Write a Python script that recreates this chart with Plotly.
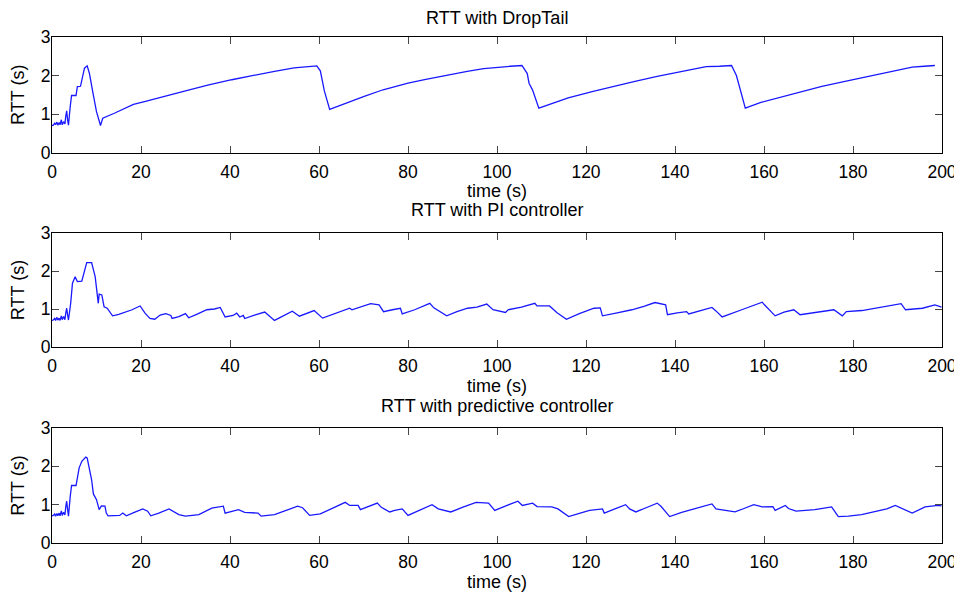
import plotly.graph_objects as go

# ---------------- data ----------------
titles = ["RTT with DropTail", "RTT with PI controller", "RTT with predictive controller"]
x_label = "time (s)"
y_label = "RTT (s)"
x_ticks = [0, 20, 40, 60, 80, 100, 120, 140, 160, 180, 200]
y_ticks = [0, 1, 2, 3]

droptail_t = [0, 0.3, 0.6, 0.8, 1.1, 1.3, 1.6, 1.8, 2.1, 2.3, 2.6, 2.9, 3.1, 3.3, 3.5, 3.7,
              4.1, 4.4, 5.4, 5.7, 6.4, 6.9, 7.3, 7.9, 8.4, 9.2, 10.0, 10.9, 11.4, 14, 16, 18.3,
              21, 24.3, 27, 30, 35, 40.4, 45, 50, 54.4, 57, 59.5, 60.3, 61.2, 62.4,
              65, 70, 74.4, 80, 84, 90, 93.3, 97, 100.8, 103, 105.6, 106.8, 107.2, 108.0, 109.4,
              112, 116, 121.6, 126, 131, 136, 140.5, 144, 147, 150, 152.7, 153.8, 154.5, 155.8,
              159.3, 164, 168.8, 173, 178.2, 183, 187.6, 191, 193.3, 196, 198.4]
droptail_rtt = [0.70, 0.71, 0.76, 0.72, 0.79, 0.71, 0.78, 0.72, 0.85, 0.72, 0.80, 0.74, 0.95, 1.08, 0.85, 0.71,
                1.20, 1.48, 1.48, 1.71, 1.72, 1.95, 2.19, 2.25, 2.06, 1.55, 1.06, 0.70, 0.89, 1.02, 1.12, 1.25,
                1.33, 1.42, 1.51, 1.60, 1.75, 1.89, 2.00, 2.11, 2.20, 2.22, 2.25, 2.12, 1.60, 1.12,
                1.24, 1.45, 1.63, 1.80, 1.90, 2.04, 2.11, 2.18, 2.23, 2.24, 2.26, 2.05, 1.80, 1.62, 1.15,
                1.26, 1.42, 1.59, 1.72, 1.85, 1.98, 2.09, 2.17, 2.23, 2.24, 2.26, 2.00, 1.70, 1.15,
                1.30, 1.45, 1.59, 1.72, 1.85, 1.97, 2.07, 2.15, 2.22, 2.24, 2.26]

pi_t = [0, 0.3, 0.6, 0.8, 1.1, 1.3, 1.6, 1.8, 2.1, 2.3, 2.6, 2.9, 3.1, 3.3, 3.5, 3.7,
        4.2, 4.6, 5.2, 5.5, 5.7, 6.7, 7.8, 8.9, 9.7, 10.4, 10.6, 11.2, 11.7, 12.4, 13.0, 13.6,
        15, 16.5, 18, 19.4, 19.8, 20.9, 22.0, 23.1, 24.3, 25.6, 26.7, 27, 28.5, 30, 30.7,
        32.5, 34.8, 36.5, 37.8, 38.9, 40.7, 41.5, 42.2, 43, 43.3, 45.5, 47.8, 50, 52, 54,
        55.6, 58.1, 58.9, 60.8, 63.5, 66.9, 67.4, 69.5, 71.6, 73.5, 74.5, 76.5, 78.3, 78.7,
        81.5, 84.9, 85.8, 88.7, 91, 93.4, 95.5, 97.7, 99.1, 101.9, 102.5, 105.5, 108.5, 109,
        111.8, 113.5, 115.6, 118.5, 121.8, 123.2, 123.7, 127, 130.3, 133, 135.5, 137.9, 138.3,
        140.5, 142.6, 143.1, 146, 148.3, 149.2, 150.6, 155, 159.6, 160.1, 162.5, 164.5, 166.7,
        168.1, 172, 175.7, 177.6, 178.5, 182, 186, 190.8, 191.8, 195.6, 198.4, 199.4, 199.9]
pi_rtt = [0.70, 0.71, 0.75, 0.70, 0.78, 0.71, 0.76, 0.70, 0.82, 0.72, 0.80, 0.72, 0.90, 1.02, 0.85, 0.71,
          1.15, 1.68, 1.85, 1.75, 1.72, 1.73, 2.22, 2.22, 1.85, 1.15, 1.39, 1.37, 1.06, 1.02, 0.93, 0.82,
          0.86, 0.92, 0.98, 1.06, 1.08, 0.89, 0.75, 0.73, 0.84, 0.88, 0.83, 0.75, 0.80, 0.88, 0.77,
          0.86, 0.98, 1.00, 1.04, 0.79, 0.83, 0.89, 0.79, 0.83, 0.75, 0.84, 0.92, 0.70, 0.82, 0.94,
          0.81, 0.92, 0.96, 0.76, 0.88, 1.02, 0.98, 1.06, 1.14, 1.11, 0.93, 0.98, 1.02, 0.87,
          0.98, 1.15, 1.03, 0.82, 0.93, 1.02, 1.05, 1.13, 0.98, 0.91, 0.98, 1.05, 1.15, 1.08,
          1.08, 0.90, 0.73, 0.88, 1.02, 1.03, 0.82, 0.90, 0.98, 1.07, 1.17, 1.11, 0.85,
          0.90, 0.93, 0.87, 0.97, 1.04, 0.95, 0.79, 0.98, 1.18, 1.11, 0.82, 0.92, 0.98,
          0.85, 0.92, 0.98, 0.82, 0.93, 0.96, 1.04, 1.14, 0.98, 1.02, 1.11, 1.07, 1.05]

pred_t = [0, 0.3, 0.6, 0.8, 1.1, 1.3, 1.6, 1.8, 2.1, 2.3, 2.6, 2.9, 3.1, 3.3, 3.5, 3.7,
          4.1, 4.4, 5.4, 6.1, 6.7, 7.6, 7.9, 8.9, 9.3, 10.0, 10.6, 11.1, 11.9, 12.2, 12.6,
          15.2, 15.9, 16.7, 18.5, 20.4, 21.5, 22.2, 24, 26.3, 28.5, 30, 33, 35.9, 38.5, 38.9,
          41.9, 43.3, 46.3, 47, 50, 52.5, 55.2, 56.3, 57.9, 60.3, 62.5, 65, 65.9, 66.9, 68.8,
          69.3, 71, 73.1, 74, 75.9, 77, 78.7, 80, 82.5, 85.4, 86.8, 89.6, 92.5, 95.3, 98.1,
          99.5, 102, 104.7, 105.7, 108, 109, 112.3, 113.7, 116.1, 118.5, 120.8, 123.7, 124.1,
          126.5, 128.9, 129.8, 131.2, 133.5, 136, 136.9, 138.8, 141.5, 144.5, 148.3, 149.2,
          151, 153.5, 155.5, 157.7, 159.6, 162, 162.5, 164.8, 165.5, 167.2, 171.4, 175.2,
          176.7, 179, 181.9, 184.5, 187.6, 189.5, 191.4, 193.3, 196.2, 199.1, 199.9]
pred_rtt = [0.71, 0.72, 0.76, 0.70, 0.77, 0.71, 0.78, 0.71, 0.84, 0.72, 0.80, 0.73, 0.95, 1.09, 0.88, 0.70,
            1.22, 1.50, 1.50, 1.96, 2.13, 2.24, 2.22, 1.65, 1.28, 1.13, 0.87, 0.97, 0.96, 0.78, 0.71,
            0.72, 0.78, 0.71, 0.80, 0.89, 0.83, 0.71, 0.78, 0.89, 0.74, 0.70, 0.74, 0.91, 0.96, 0.78,
            0.87, 0.80, 0.78, 0.70, 0.74, 0.85, 0.96, 0.92, 0.72, 0.76, 0.87, 1.00, 1.06, 0.98, 0.98,
            0.87, 0.95, 1.04, 0.93, 0.81, 0.85, 0.89, 0.72, 0.85, 1.00, 0.89, 0.81, 0.94, 1.06, 1.04,
            0.85, 0.97, 1.09, 0.98, 1.04, 0.95, 0.94, 0.89, 0.69, 0.77, 0.85, 0.89, 0.78,
            0.89, 1.00, 0.89, 0.81, 0.92, 1.04, 0.95, 0.69, 0.80, 0.89, 1.02, 0.89,
            0.86, 0.81, 0.90, 1.00, 0.94, 0.95, 0.85, 0.98, 0.90, 0.83, 0.87, 0.94,
            0.69, 0.70, 0.74, 0.80, 0.89, 0.98, 0.89, 0.78, 0.94, 0.98, 0.97]

series_t = [droptail_t, pi_t, pred_t]
series_rtt = [droptail_rtt, pi_rtt, pred_rtt]

# ---------------- layout geometry ----------------
# the page body adds an 8px offset, so the figure is drawn 8px smaller
OFF = 8
W, H = 962 - OFF, 594 - OFF


def px_x(p):
    return (p - OFF) / W


def px_y(p):
    return 1 - (p - OFF) / H


x_dom = [px_x(52), px_x(942)]
y_doms = [[px_y(152.5), px_y(37)],
          [px_y(347), px_y(233)],
          [px_y(543), px_y(428)]]
title_y_px = [18, 209.7, 405.5]

FONT = "Liberation Sans, Arial, Helvetica, sans-serif"

fig = go.Figure()
for i in range(3):
    sfx = "" if i == 0 else str(i + 1)
    fig.add_trace(go.Scatter(x=series_t[i], y=series_rtt[i], mode="lines",
                             line=dict(color="rgb(25,25,255)", width=1.3),
                             xaxis="x" + sfx, yaxis="y" + sfx, showlegend=False,
                             hoverinfo="skip"))

axis_common = dict(showline=True, linecolor="black", linewidth=1, mirror="ticks",
                   ticks="inside", ticklen=7, tickcolor="rgb(70,70,70)", tickwidth=1,
                   showgrid=False, zeroline=False, automargin=False,
                   tickfont=dict(family=FONT, size=17.5, color="black"))

layout = dict(width=W, height=H, margin=dict(l=0, r=0, t=0, b=0),
              paper_bgcolor="white", plot_bgcolor="white",
              font=dict(family=FONT, size=17.5, color="black"),
              showlegend=False, annotations=[])

for i in range(3):
    sfx = "" if i == 0 else str(i + 1)
    layout["xaxis" + sfx] = dict(axis_common, domain=x_dom, range=[0, 200],
                                 tickvals=x_ticks, anchor="y" + sfx,
                                 ticklabelstandoff=3,
                                 title=dict(text=x_label, standoff=3,
                                            font=dict(family=FONT, size=18)))
    layout["yaxis" + sfx] = dict(axis_common, domain=y_doms[i], range=[0, 3],
                                 tickvals=y_ticks, anchor="x" + sfx,
                                 ticklabelstandoff=-3,
                                 title=dict(text=y_label, standoff=11,
                                            font=dict(family=FONT, size=18)))
    layout["annotations"].append(dict(text=titles[i], xref="paper", yref="paper",
                                      x=px_x(497), y=px_y(title_y_px[i]),
                                      xanchor="center", yanchor="middle",
                                      showarrow=False, font=dict(family=FONT, size=18)))

fig.update_layout(layout)
fig.write_html("out.html")
